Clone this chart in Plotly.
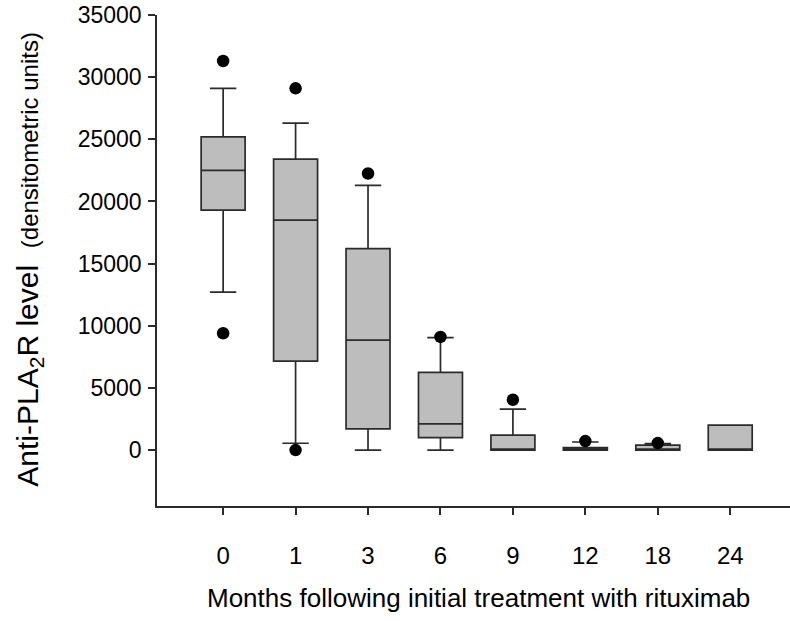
import plotly.graph_objects as go

# Anti-PLA2R level summary per follow-up visit (months after rituximab)
months = ["0", "1", "3", "6", "9", "12", "18", "24"]
q1 = [19300, 7150, 1700, 1000, 0, 0, 0, 0]
median = [22500, 18500, 8850, 2100, 0, 0, 0, 0]
q3 = [25200, 23400, 16200, 6250, 1200, 200, 400, 2000]
lower_fence = [12700, 550, 0, 0, 0, 0, 0, 0]
upper_fence = [29100, 26300, 21300, 9050, 3300, 650, 520, 2000]

# Points beyond the whiskers
outlier_month = ["0", "0", "1", "1", "3", "6", "9", "12", "18"]
outlier_value = [31300, 9400, 29100, 0, 22250, 9100, 4050, 720, 560]

y_ticks = [0, 5000, 10000, 15000, 20000, 25000, 30000, 35000]

positions = list(range(len(months)))
outlier_pos = [months.index(m) for m in outlier_month]

FONT = "Liberation Sans, Arial, Helvetica, sans-serif"
INK = "#2b2b2b"

fig = go.Figure()

fig.add_trace(go.Box(
    x=positions,
    q1=q1,
    median=median,
    q3=q3,
    lowerfence=lower_fence,
    upperfence=upper_fence,
    boxpoints=False,
    width=0.607,
    whiskerwidth=0.6,
    fillcolor="#bdbdbd",
    line=dict(color=INK, width=1.7),
    showlegend=False,
    hoverinfo="skip",
))

fig.add_trace(go.Scatter(
    x=outlier_pos,
    y=outlier_value,
    mode="markers",
    marker=dict(symbol="circle", size=12.5, color="black"),
    showlegend=False,
    hoverinfo="skip",
))

fig.update_layout(
    width=790,
    height=621,
    margin=dict(l=157, r=0, t=15, b=115),
    paper_bgcolor="white",
    plot_bgcolor="white",
    font=dict(family=FONT, color="black"),
    xaxis=dict(
        range=[-0.913, 7.825],
        tickmode="array",
        tickvals=positions,
        ticktext=months,
        showline=True,
        linecolor=INK,
        linewidth=1.6,
        ticks="outside",
        ticklen=7,
        tickwidth=1.6,
        tickcolor=INK,
        showgrid=False,
        zeroline=False,
        tickfont=dict(size=24, family=FONT, color="black"),
        ticklabelstandoff=20,
    ),
    yaxis=dict(
        range=[-4500, 35000],
        tickmode="array",
        tickvals=y_ticks,
        ticktext=[str(v) for v in y_ticks],
        showline=True,
        linecolor=INK,
        linewidth=1.6,
        ticks="outside",
        ticklen=7,
        tickwidth=1.6,
        tickcolor=INK,
        showgrid=False,
        zeroline=False,
        tickfont=dict(size=23, family=FONT, color="black"),
        ticklabelstandoff=2,
    ),
    annotations=[
        dict(
            text="Anti-PLA<sub>2</sub>R level  <span style='font-size:24px'>(densitometric units)</span>",
            xref="paper", yref="paper",
            x=-0.2028, y=0.503,
            xanchor="center", yanchor="middle",
            textangle=-90,
            showarrow=False,
            font=dict(size=30, family=FONT, color="black"),
        ),
        dict(
            text="Months following initial treatment with rituximab",
            xref="paper", yref="paper",
            x=0.5075, y=-0.188,
            xanchor="center", yanchor="middle",
            showarrow=False,
            font=dict(size=26, family=FONT, color="black"),
        ),
    ],
)

fig.write_html("out.html")
